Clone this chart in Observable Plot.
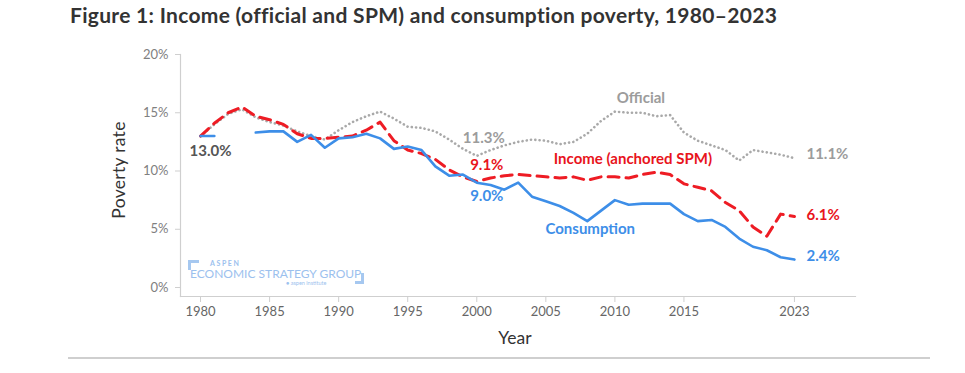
<!DOCTYPE html>
<html>
<head>
<meta charset="utf-8">
<script src="https://cdn.jsdelivr.net/npm/d3@7"></script>
<script src="https://cdn.jsdelivr.net/npm/@observablehq/plot@0.6"></script>
<style>
  html, body { margin: 0; padding: 0; background: #fff; }
  body { width: 965px; height: 373px; position: relative; overflow: hidden; font-family: Lato, "Open Sans", sans-serif; }
  #title { position: absolute; left: 70px; top: 2px; font-size: 21px; font-weight: 700; color: #333; white-space: nowrap; letter-spacing: 0.3px; }
  #chart { position: absolute; left: 0; top: 40px; }
  #ylab { position: absolute; left: 118px; top: 170px; transform: translate(-50%, -50%) rotate(-90deg); font-size: 17.5px; color: #333; white-space: nowrap; letter-spacing: 0.3px; }
  #xlab { position: absolute; left: 515px; top: 337px; transform: translate(-50%, -50%); font-size: 17.5px; color: #333; }
  #rule { position: absolute; left: 68px; width: 862px; top: 357px; height: 1.5px; background: #cfcfcf; }
  #logo { position: absolute; left: 188px; top: 258px; width: 176px; height: 28px; color: #9cc1ee; }
  #logo div { line-height: 1; }
  #logo .b1 { position: absolute; left: 0; top: 2px; width: 11px; height: 10px; border-left: 3px solid #a6c8f0; border-top: 3px solid #a6c8f0; box-sizing: border-box; }
  #logo .b2 { position: absolute; right: 0; top: 15px; width: 9px; height: 11px; border-right: 3px solid #a6c8f0; border-bottom: 3px solid #a6c8f0; box-sizing: border-box; }
  #logo .aspen { position: absolute; left: 22px; top: 2px; font-size: 7px; font-weight: 700; letter-spacing: 1.6px; }
  #logo .esg { position: absolute; left: 2px; top: 10px; font-size: 12px; white-space: nowrap; }
  #logo .ai { position: absolute; left: 98px; top: 23px; font-size: 5.5px; white-space: nowrap; }
</style>
</head>
<body>
<div id="title">Figure 1: Income (official and SPM) and consumption poverty, 1980–2023</div>
<div id="chart"></div>
<div id="ylab">Poverty rate</div>
<div id="xlab">Year</div>
<div id="logo"><div class="b1"></div><div class="aspen">ASPEN</div><div class="esg">ECONOMIC STRATEGY GROUP</div><div class="ai">● aspen institute</div><div class="b2"></div></div>
<div id="rule"></div>
<script>
// ---- data ----
const years = d3.range(1980, 2024);
const official = [13.0,14.0,14.9,15.3,14.6,14.2,13.9,13.4,13.0,12.7,
                  13.5,14.2,14.7,15.1,14.5,13.8,13.7,13.4,12.7,11.9,
                  11.3,11.8,12.2,12.5,12.7,12.6,12.3,12.5,13.2,14.3,
                  15.1,15.0,15.0,14.7,14.8,13.3,12.6,12.2,11.8,10.9,
                  11.8,11.6,11.4,11.1];
const incomeSPM = [13.0,14.1,15.0,15.5,14.7,14.4,14.0,13.2,12.8,12.8,
                   12.9,13.0,13.5,14.2,12.6,11.8,11.5,11.0,10.1,9.5,
                   9.1,9.4,9.6,9.7,9.6,9.5,9.4,9.5,9.2,9.5,
                   9.5,9.4,9.7,9.9,9.7,8.9,8.6,8.3,7.3,6.6,
                   5.2,4.4,6.3,6.1];
const consumption = [13.0,13.0,null,null,13.3,13.4,13.4,12.5,13.1,12.0,
                     12.8,12.9,13.2,12.8,11.9,12.1,11.8,10.4,9.6,9.7,
                     9.0,8.8,8.4,9.0,7.8,7.4,7.0,6.4,5.7,6.6,
                     7.5,7.1,7.2,7.2,7.2,6.3,5.7,5.8,5.2,4.2,
                     3.5,3.2,2.6,2.4];
const xTicks = [1980,1985,1990,1995,2000,2005,2010,2015,2023];
const yTicks = [0,5,10,15,20];
// annotations
const labelText  = ["13.0%","11.3%","9.1%","9.0%","Official","Income (anchored SPM)","Consumption","11.1%","6.1%","2.4%"];
const labelYear  = [1980,2000,2000,2000,2010,2010,2008,2023,2023,2023];
const labelValue = [13.0,11.3,9.1,9.0,15.1,9.5,5.7,11.1,6.1,2.4];
const labelSeries= ["start","official","income","consumption","official","income","consumption","official","income","consumption"];

// ---- styles ----
const colors = {official:"#a9a9a9", income:"#ee1c24", consumption:"#3d8ee8", start:"#555555"};
const textColors = {official:"#9c9c9c", income:"#e8141c", consumption:"#3d8ee8", start:"#555555"};
const offsets = [[10,15,"middle"],[7,-18,"middle"],[10,-16,"middle"],[10,14,"middle"],[26,-13,"middle"],[18,-18,"middle"],[3,8,"middle"],[12,-4,"start"],[12,-1,"start"],[12,-3,"start"]];

const rows = (vals) => years.map((y,i) => ({year:y, v:vals[i]}));
const labels = labelText.map((t,i) => ({text:t, year:labelYear[i], v:labelValue[i], s:labelSeries[i]}));

const chart = Plot.plot({
  width: 965,
  height: 333,
  marginLeft: 180,
  marginRight: 110,
  marginTop: 14,
  marginBottom: 77,
  style: {fontFamily: "Lato, 'Open Sans', sans-serif", background: "transparent"},
  x: {domain: [1978.55, 2027.42]},
  y: {domain: [-0.77, 20]},
  marks: [
    Plot.frame({anchor: "left", stroke: "#cfcfcf", strokeWidth: 1.2}),
    Plot.frame({anchor: "bottom", stroke: "#cfcfcf", strokeWidth: 1.2}),
    Plot.axisY({ticks: yTicks, tickFormat: d => d + "%", tickSize: 5, tickPadding: 7, fontSize: 13, color: "#808080", stroke: "#cfcfcf", label: null}),
    Plot.axisX({ticks: xTicks, tickFormat: d => String(d), tickSize: 6, tickPadding: 4, fontSize: 13, color: "#666", stroke: "#cfcfcf", label: null}),
    Plot.line(rows(official), {x: "year", y: "v", stroke: colors.official, strokeWidth: 2.6, strokeDasharray: "0.1,4.2", strokeLinecap: "round"}),
    Plot.line(rows(incomeSPM), {x: "year", y: "v", stroke: colors.income, strokeWidth: 3, strokeDasharray: "11,7"}),
    Plot.line(rows(consumption), {x: "year", y: "v", stroke: colors.consumption, strokeWidth: 2.6, defined: d => d.v != null}),
    ...labels.map((d,i) => Plot.text([d], {x: "year", y: "v", text: "text", dx: offsets[i][0], dy: offsets[i][1], textAnchor: offsets[i][2], fill: textColors[d.s], fontSize: 15, fontWeight: 700}))
  ]
});
document.getElementById("chart").appendChild(chart);
</script>
</body>
</html>
